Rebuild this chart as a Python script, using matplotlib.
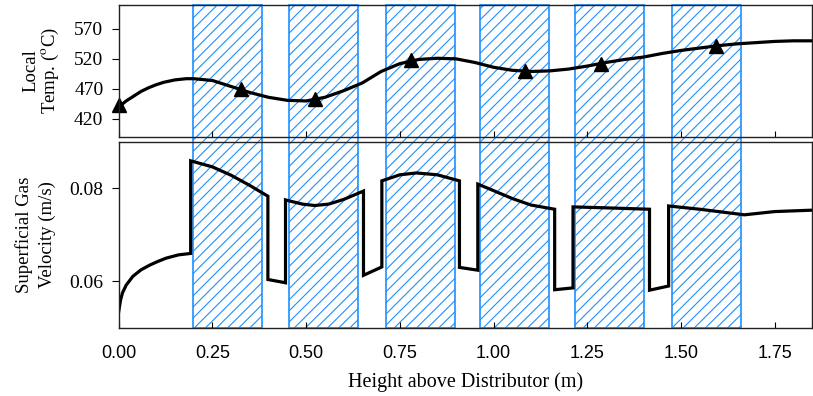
import matplotlib.pyplot as plt
import numpy as np

plt.rcParams['font.family'] = ['Liberation Serif', 'DejaVu Serif']
plt.rcParams['mathtext.fontset'] = 'stix'
plt.rcParams['hatch.linewidth'] = 0.8

# hatched sections (start, end) in m
zone_start = [0.198, 0.454, 0.714, 0.963, 1.218, 1.475]
zone_end = [0.382, 0.638, 0.898, 1.147, 1.402, 1.659]

# temperature profile
temp_x = [0.0, 0.02, 0.04, 0.06, 0.08, 0.10, 0.12, 0.15, 0.18, 0.20, 0.25, 0.30, 0.35,
          0.40, 0.45, 0.50, 0.55, 0.60, 0.65, 0.70, 0.75, 0.80, 0.85, 0.90,
          0.95, 1.00, 1.05, 1.10, 1.15, 1.20, 1.25, 1.30, 1.35, 1.40, 1.45,
          1.50, 1.55, 1.60, 1.65, 1.70, 1.75, 1.80, 1.85]
temp_y = [440, 450, 458, 466, 472, 477, 481, 485, 487, 487, 484, 474, 464,
          456, 451, 450, 456, 467, 480, 499, 512, 519, 521, 520,
          514, 506, 501, 499, 500, 503, 508, 514, 519, 523, 529,
          534, 538, 542, 545, 547, 549, 550, 550]

# measured temperatures
meas_x = [0.0, 0.325, 0.525, 0.78, 1.085, 1.287, 1.594]
meas_y = [443, 470, 453, 518, 500, 512, 541]

# superficial gas velocity
vel_x = [0.0, 0.005, 0.01, 0.02, 0.038, 0.06, 0.083, 0.105, 0.127, 0.16, 0.192,
         0.192, 0.25, 0.30, 0.35, 0.398,
         0.398, 0.445,
         0.445, 0.49, 0.523, 0.56, 0.60, 0.653,
         0.653, 0.702,
         0.702, 0.75, 0.794, 0.85, 0.909,
         0.909, 0.958,
         0.958, 1.00, 1.05, 1.10, 1.163,
         1.163, 1.212,
         1.212, 1.30, 1.416,
         1.416, 1.467,
         1.467, 1.55, 1.669, 1.75, 1.85]
vel_y = [0.0535, 0.0560, 0.0575, 0.0592, 0.0611, 0.0625, 0.0635, 0.0643, 0.0650, 0.0657, 0.0660,
         0.0859, 0.0846, 0.0828, 0.0806, 0.0783,
         0.0604, 0.0597,
         0.0775, 0.0766, 0.0763, 0.0766, 0.0776, 0.0794,
         0.0613, 0.0631,
         0.0816, 0.0829, 0.0833, 0.0829, 0.0816,
         0.0630, 0.0624,
         0.0809, 0.0795, 0.0778, 0.0764, 0.0755,
         0.0582, 0.0586,
         0.0760, 0.0758, 0.0755,
         0.0581, 0.0590,
         0.0762, 0.0755, 0.0743, 0.0750, 0.0753]

blue = '#1E8FFF'

fig = plt.figure(figsize=(8.13, 3.96), dpi=100)
ax1 = fig.add_axes([0.146, 0.654, 0.853, 0.334])
ax2 = fig.add_axes([0.146, 0.172, 0.853, 0.470])

for s, e in zip(zone_start, zone_end):
    ax1.axvspan(s, e, ymin=-0.05, ymax=1, facecolor='none', edgecolor=blue,
                hatch='///', lw=1.2, clip_on=False, zorder=1)
    ax2.axvspan(s, e, facecolor='none', edgecolor=blue, hatch='///', lw=1.2, zorder=1)

ax1.plot(temp_x, temp_y, color='black', lw=2.3, zorder=3)
ax1.plot(meas_x, meas_y, '^', color='black', ms=10, clip_on=False, zorder=4)
ax2.plot(vel_x, vel_y, color='black', lw=2.3, zorder=3, solid_joinstyle='miter')

ax1.set_xlim(0, 1.85)
ax2.set_xlim(0, 1.85)
ax1.set_ylim(390, 610)
ax2.set_ylim(0.050, 0.090)

ax1.set_yticks([420, 470, 520, 570])
ax2.set_yticks([0.06, 0.08])
ax2.set_yticklabels(['0.06', '0.08'])
ticks = np.arange(0, 1.76, 0.25)
ax1.set_xticks(ticks)
ax2.set_xticks(ticks)
ax1.set_xticklabels([])
ax2.set_xticklabels(['%.2f' % t for t in ticks],
                    family=['Liberation Sans Narrow', 'Liberation Sans', 'DejaVu Sans'])

for ax in (ax1, ax2):
    ax.tick_params(axis='x', direction='in', length=4, labelsize=13, pad=12)
    ax.tick_params(axis='y', direction='out', length=5, labelsize=14, pad=6)
    for sp in ax.spines.values():
        sp.set_linewidth(1.0)
        sp.set_color('#222222')
        sp.set_zorder(5)

ax1.set_ylabel('Local\nTemp. ($^{\\mathrm{o}}$C)', fontsize=13.5, linespacing=1.05)
ax2.set_ylabel('Superficial Gas\nVelocity (m/s)', fontsize=13.5, linespacing=1.4)
ax1.yaxis.set_label_coords(-0.083, 0.5)
ax2.yaxis.set_label_coords(-0.091, 0.5)
ax2.set_xlabel('Height above Distributor (m)', fontsize=14.5, labelpad=8)

fig.savefig('out.png', dpi=100)
